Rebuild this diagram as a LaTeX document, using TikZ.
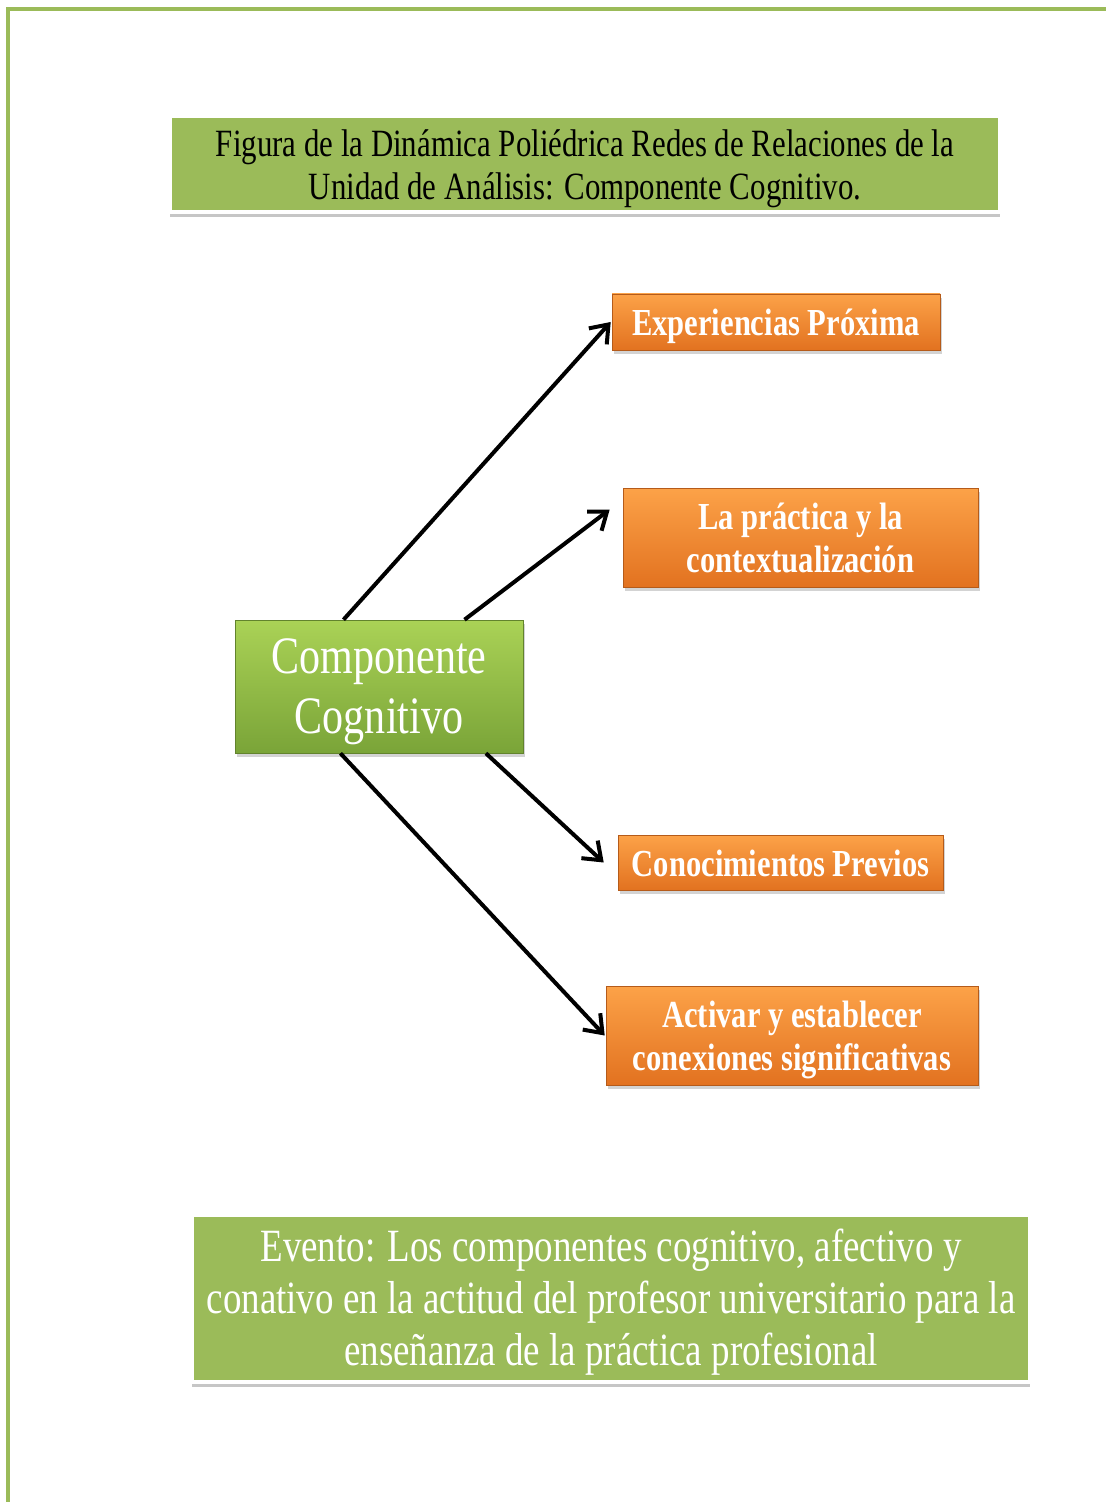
\documentclass[tikz,border=0pt]{standalone}
\usepackage{fontspec}
\setmainfont{Liberation Serif}
\newfontfamily\estrecha[FakeStretch=0.8]{Liberation Serif}
\usetikzlibrary{arrows.meta,shadows}
\definecolor{verdemarco}{RGB}{155,187,89}
\definecolor{verdeclaro}{RGB}{170,210,86}
\definecolor{verdeoscuro}{RGB}{122,164,56}
\definecolor{naranjaclaro}{RGB}{252,162,72}
\definecolor{naranja}{RGB}{247,147,48}
\definecolor{naranjaoscuro}{RGB}{226,114,32}
% texto centrado y un poco mas abajo dentro de la caja
\newcommand{\bajado}[1]{\raisebox{-2.5pt}[\height][\depth]{\begin{tabular}{@{}c@{}}#1\end{tabular}}}
\begin{document}
\begin{tikzpicture}[x=0.5pt,y=-0.5pt,
    marco/.style={draw=white,line width=2pt,fill=verdemarco,inner sep=0pt,
      drop shadow={shadow xshift=0pt,shadow yshift=-2.5pt,opacity=.45}},
    naranjacaja/.style={draw=naranjaoscuro!80!black,line width=.3pt,
      top color=naranjaclaro,middle color=naranja,bottom color=naranjaoscuro,
      text=white,inner sep=0pt,
      font=\estrecha\bfseries\fontsize{19.1}{21.5}\selectfont,
      drop shadow={shadow xshift=1pt,shadow yshift=-2pt,opacity=.35}},
    flecha/.style={-{Straight Barb[length=8pt,width=12pt]},line width=2pt}]
  \useasboundingbox (0,0) rectangle (1106,1502);
  % marco de la pagina
  \draw[verdemarco,line width=1.6pt] (8,1502) -- (8,9) -- (1106,9);
  \draw
    (585,164) node[marco,minimum width=415pt,minimum height=48pt,
      font=\estrecha\fontsize{19.3}{21.5}\selectfont] (titulo)
      {\bajado{Figura de la Dinámica Poliédrica Redes de Relaciones de la\\
       Unidad de Análisis: Componente Cognitivo.}}
    (379,686.5) node[draw=verdeoscuro!80!black,line width=.3pt,
      top color=verdeclaro,bottom color=verdeoscuro,text=white,
      minimum width=144pt,minimum height=66.5pt,inner sep=0pt,
      font=\estrecha\fontsize{26.3}{30}\selectfont,
      drop shadow={shadow xshift=1pt,shadow yshift=-2pt,opacity=.35}] (cc)
      {\bajado{Componente\\Cognitivo}}
    (776,322) node[naranjacaja,minimum width=164pt,minimum height=28pt] (exp)
      {\bajado{Experiencias Próxima}}
    (800.5,537.5) node[naranjacaja,minimum width=177.5pt,minimum height=49.5pt] (prac)
      {\bajado{La práctica y la\\contextualización}}
    (780.5,862.5) node[naranjacaja,minimum width=162.5pt,minimum height=27.5pt] (cono)
      {\bajado{Conocimientos Previos}}
    (792,1035.5) node[naranjacaja,minimum width=186pt,minimum height=49.5pt] (act)
      {\bajado{Activar y establecer\\conexiones significativas}}
    (611,1298.5) node[marco,minimum width=419pt,minimum height=83.5pt,
      text=white,font=\estrecha\fontsize{23.1}{26}\selectfont] (evento)
      {\bajado{Evento: Los componentes cognitivo, afectivo y\\
       conativo en la actitud del profesor universitario para la\\
       enseñanza de la práctica profesional}};
  \begin{scope}[flecha]
    \draw (cc.118) to ([xshift=-.5pt]exp.west);
    \draw (cc.38) to ([xshift=-6.5pt,yshift=14pt]prac.west);
    \draw (cc.-32) to ([xshift=-7pt]cono.west);
    \draw (cc.-120) to ([xshift=-.5pt]act.west);
  \end{scope}
\end{tikzpicture}
\end{document}
